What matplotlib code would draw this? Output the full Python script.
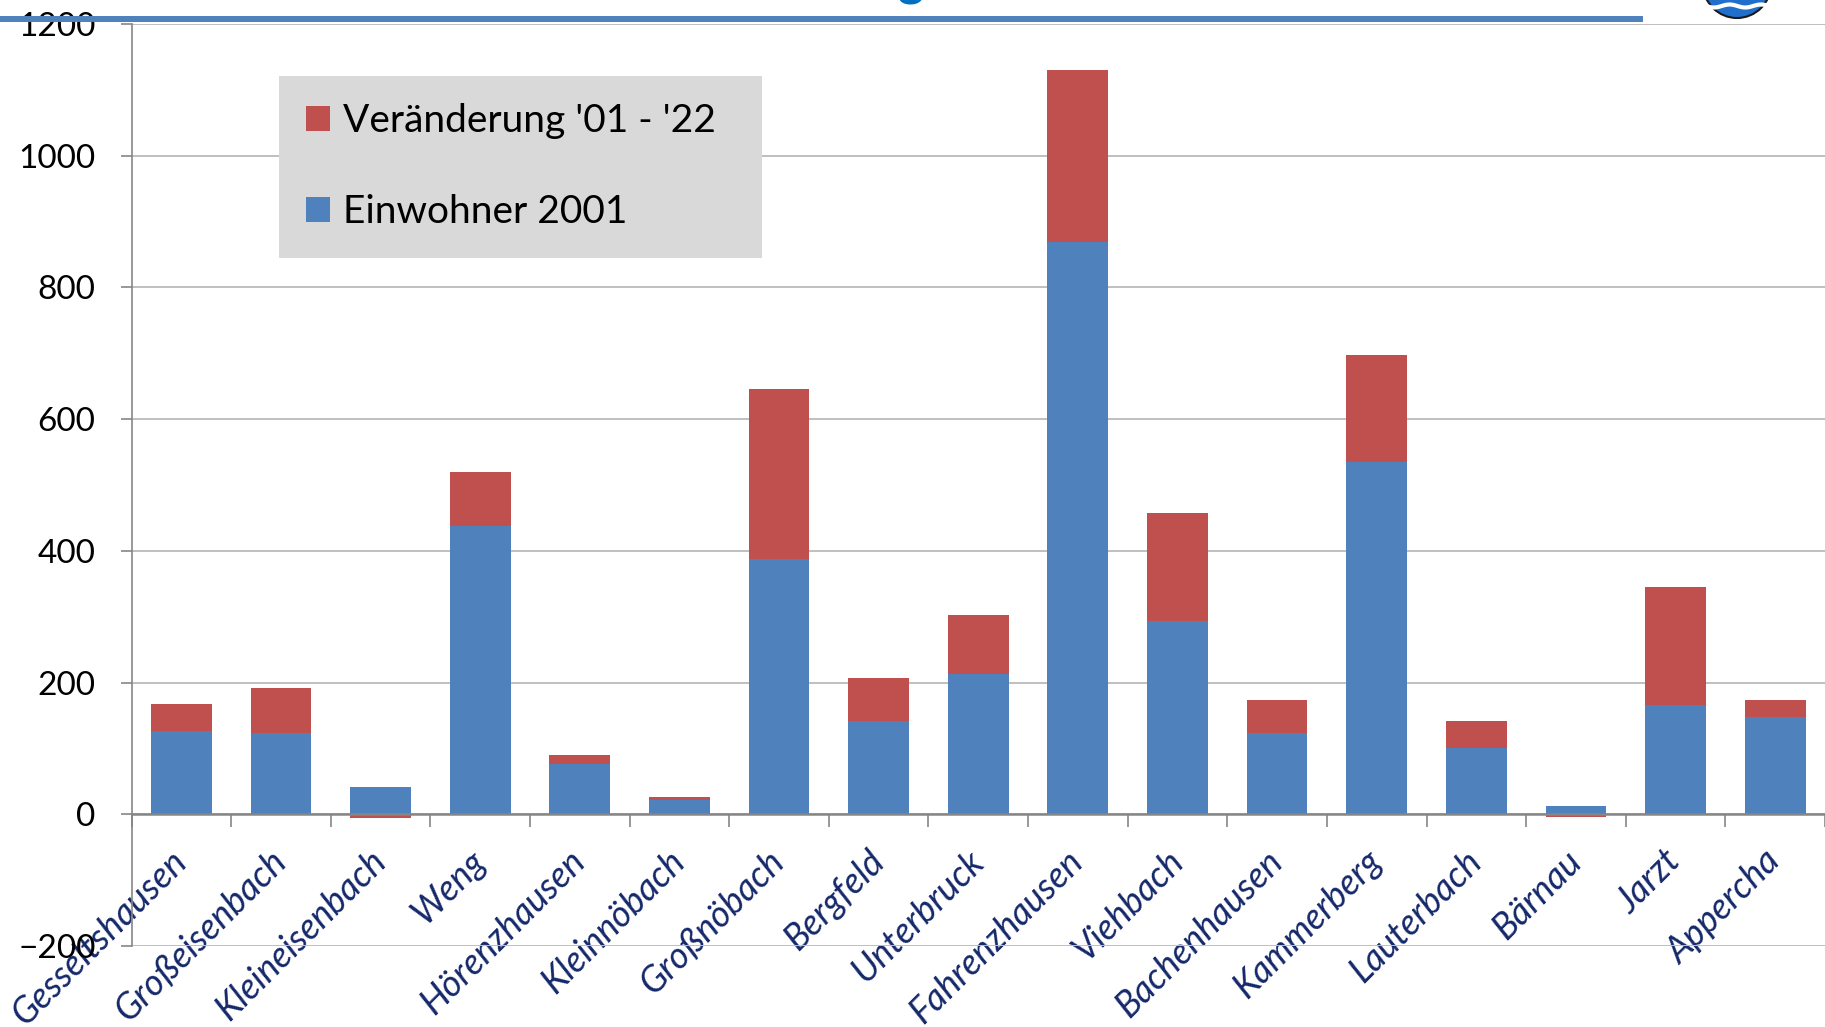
import numpy as np
import matplotlib
matplotlib.use("Agg")
import matplotlib.pyplot as plt
from matplotlib.patches import Patch, Ellipse
from matplotlib.lines import Line2D

plt.rcParams['font.family'] = ['Lato', 'DejaVu Sans']

orte = ['Gesseltshausen', 'Großeisenbach', 'Kleineisenbach', 'Weng',
        'Hörenzhausen', 'Kleinnöbach', 'Großnöbach', 'Bergfeld', 'Unterbruck',
        'Fahrenzhausen', 'Viehbach', 'Bachenhausen', 'Kammerberg',
        'Lauterbach', 'Bärnau', 'Jarzt', 'Appercha']
einwohner_2001 = [127, 124, 41, 438, 77, 21, 387, 142, 213, 869, 293, 124, 535, 101, 12, 166, 147]
veraenderung = [40, 68, -5, 82, 13, 6, 259, 65, 90, 261, 165, 49, 163, 40, -4, 179, 26]

blue = '#4F81BD'
red = '#C0504D'
grey = '#868686'

fig = plt.figure(figsize=(18.25, 10.27), dpi=100)
ax = fig.add_axes([131.5 / 1825, 1 - 946 / 1027, 1 - 131.5 / 1825, (946 - 24) / 1027])

x = np.arange(len(orte))
base = np.array(einwohner_2001)
delta = np.array(veraenderung)
# Excel stacks negative values below zero, positive ones on top of the base
bottom_red = np.where(delta >= 0, base, 0)

ax.bar(x, base, width=0.61, color=blue, zorder=2)
ax.bar(x, delta, width=0.61, bottom=bottom_red, color=red, zorder=2)

ax.set_xlim(-0.5, len(orte) - 0.5)
ax.set_ylim(-200, 1200)
ax.set_yticks(np.arange(-200, 1201, 200))
ax.yaxis.grid(True, color='#BFBFBF', linewidth=1.4, zorder=0)
ax.set_axisbelow(True)

ax.spines['top'].set_visible(False)
ax.spines['right'].set_visible(False)
ax.spines['left'].set_color(grey)
ax.spines['left'].set_linewidth(1.2)
ax.spines['bottom'].set_position(('data', 0))
ax.spines['bottom'].set_color(grey)
ax.spines['bottom'].set_linewidth(1.8)
ax.spines['bottom'].set_zorder(3)

# tick marks between categories, labels at category centres
ax.set_xticks(np.arange(-0.5, len(orte), 1.0))
ax.set_xticklabels([])
ax.set_xticks(x, labels=orte, minor=True)
ax.tick_params(axis='x', which='major', length=9, width=1.2, color=grey, direction='out')
ax.tick_params(axis='x', which='minor', length=0, pad=30)
for lab in ax.get_xticklabels(minor=True):
    lab.set_rotation(45)
    lab.set_ha('right')
    lab.set_va('center')
    lab.set_rotation_mode('anchor')
    lab.set_fontstyle('italic')
    lab.set_fontsize(26)
    lab.set_color('#14286A')

ax.tick_params(axis='y', length=8, width=1.2, color=grey, pad=18, labelsize=24)

handles = [Patch(facecolor=red, label="Veränderung '01 - '22"),
           Patch(facecolor=blue, label='Einwohner 2001')]
leg = ax.legend(handles=handles, loc='upper left',
                bbox_to_anchor=(0.0871, 0.7484, 0.2852, 0.1952), mode='expand',
                borderaxespad=0, frameon=True, fancybox=False, facecolor='#D9D9D9',
                edgecolor='#D9D9D9', framealpha=1, fontsize=28, handlelength=0.6,
                handleheight=0.6, handletextpad=0.35, labelspacing=1.42,
                borderpad=0.7)
leg.get_frame().set_linewidth(0)

# header line and cut-off title / logo from the slide
fig.add_artist(Line2D([0, 1640 / 1825], [1 - 18.7 / 1027] * 2, color=blue,
                      linewidth=4.3, transform=fig.transFigure, zorder=5))
fig.text(911 / 1825, 1 + 4 / 1027, 'g', color='#0070C0', fontsize=36,
         fontweight='bold', ha='center', va='baseline')
fig.add_artist(Ellipse((1737 / 1825, 1 + 16 / 1027), 68 / 1825, 68 / 1027,
                       facecolor='#1F6FCB', edgecolor='#1a1a1a', linewidth=1.5,
                       transform=fig.transFigure, zorder=5))
wx = np.linspace(1706, 1768, 40)
fig.add_artist(Line2D(wx / 1825, 1 - (6 + 1.5 * np.sin((wx - 1706) / 5)) / 1027,
                      color='white', linewidth=3, transform=fig.transFigure, zorder=6))

fig.savefig('out.png', dpi=100)
